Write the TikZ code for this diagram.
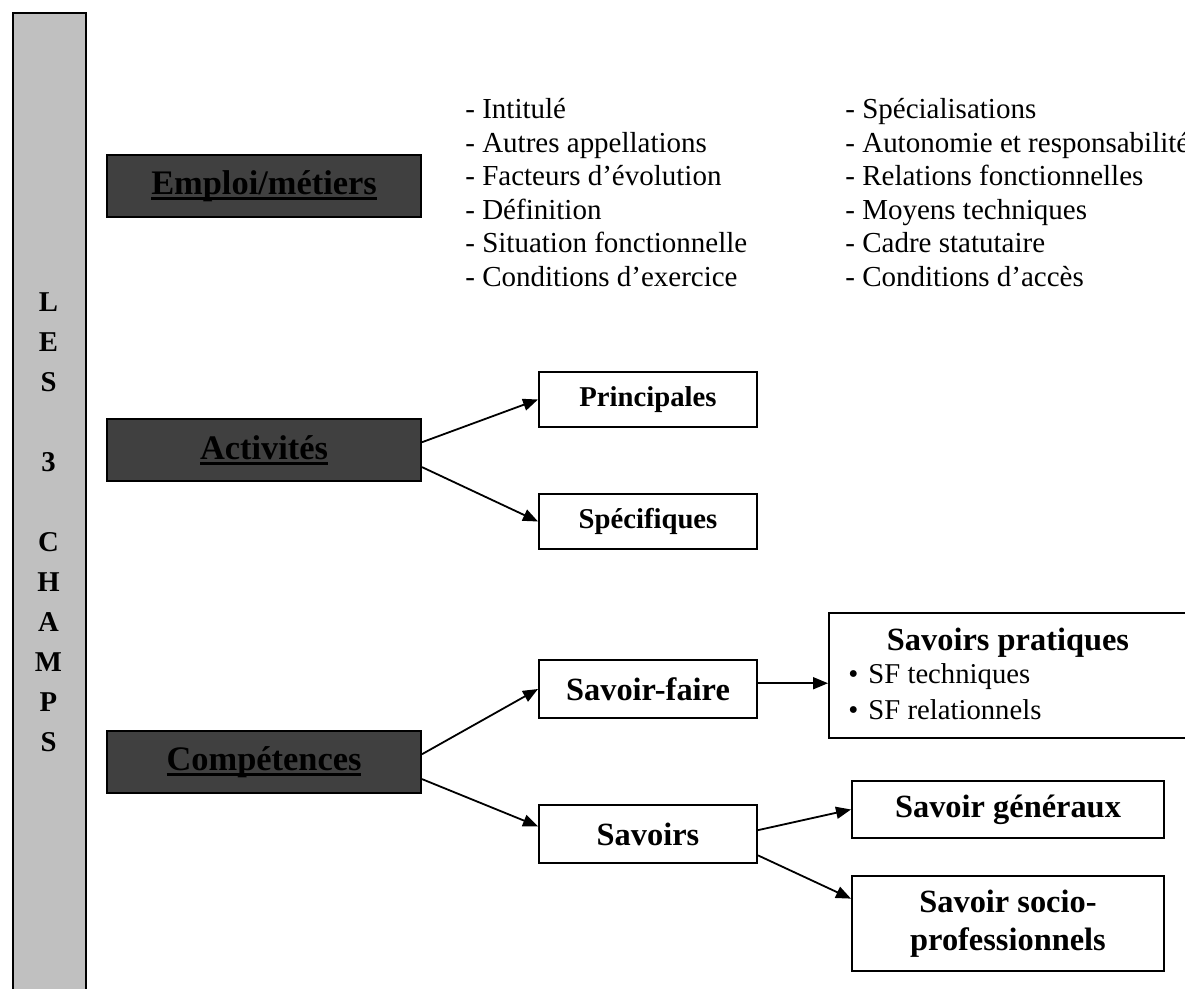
\documentclass[tikz,border=0pt]{standalone}
\usepackage{fontspec}
\setmainfont{Liberation Serif}
\usepackage{tikz}
\usetikzlibrary{positioning,arrows.meta}

\definecolor{barfill}{HTML}{C0C0C0}
\definecolor{darkfill}{HTML}{404040}
\newsavebox{\soulbox}
\newcommand{\souligne}[1]{\sbox{\soulbox}{#1}\rlap{\vrule height -1.3pt depth 2.7pt width \wd\soulbox}\usebox{\soulbox}}

\tikzset{
	darkbox/.style={draw=black,line width=1pt,fill=darkfill,minimum width=157pt,minimum height=31pt,inner sep=0pt,font=\fontsize{17.2}{20}\selectfont\bfseries},
	whitebox/.style={draw=black,line width=1pt,minimum width=109pt,minimum height=27.5pt,inner sep=0pt,font=\fontsize{14.35}{17}\selectfont\bfseries},
	bigbox/.style={whitebox,minimum height=29pt,font=\fontsize{16.2}{19}\selectfont\bfseries},
	listtext/.style={align=left,inner sep=0pt,font=\fontsize{14.5}{16.8}\selectfont},
	link/.style={-{Triangle[length=7.5pt,width=6pt]},line width=0.9pt}
}

\begin{document}
\begin{tikzpicture}[x=0.5pt,y=-0.5pt]
		\useasboundingbox (0,0) rectangle (1185,989);
		\begin{scope}
			% bande grise a gauche
			\node(bar) [draw=black,line width=1.2pt,fill=barfill,anchor=north west,minimum width=36.5pt,minimum height=500pt] at (12,12) {};
			\node(champs) [font=\fontsize{14.35}{20}\selectfont\bfseries,align=center,inner sep=0pt] at (48.5,522) {L\\E\\S\\[20pt]3\\[20pt]C\\H\\A\\M\\P\\S};

			% emploi
			\node(emploi) [darkbox] at (264,186.5) {\souligne{Emploi/métiers}};
			\node(liste1) [listtext,anchor=north west] at (465,98) {- Intitulé\\- Autres appellations\\- Facteurs d’évolution\\- Définition\\- Situation fonctionnelle\\- Conditions d’exercice};
			\node(liste2) [listtext,anchor=north west] at (845,98) {- Spécialisations\\- Autonomie et responsabilité\\- Relations fonctionnelles\\- Moyens techniques\\- Cadre statutaire\\- Conditions d’accès};

			% activites
			\node(act) [darkbox] at (264,450.5) {\souligne{Activités}};
			\node(princ) [whitebox] at (648,399.5) {Principales};
			\node(spec) [whitebox,below=32.5pt of princ] {Spécifiques};

			% competences
			\node(comp) [darkbox] at (264,762.5) {\souligne{Compétences}};
			\node(sf) [bigbox] at (648,689) {Savoir-faire};
			\node(sav) [bigbox,below=42.5pt of sf] {Savoirs};
			\node(sp) [draw=black,line width=1pt,anchor=north west,minimum width=180pt,minimum height=62.5pt] at (828,612) {};
			\node(sptitle) [font=\fontsize{16.2}{19}\selectfont\bfseries,inner sep=0pt] at (1008,643) {Savoirs pratiques};
			\node(sp1) [font=\fontsize{14.35}{17}\selectfont,anchor=west,inner sep=0pt] at (848,677) {•\hspace{5pt}SF techniques};
			\node(sp2) [font=\fontsize{14.35}{17}\selectfont,anchor=west,inner sep=0pt] at (848,710) {•\hspace{5pt}SF relationnels};
			\node(sg) [bigbox,minimum width=156pt,minimum height=28.5pt] at (1008,809.5) {Savoir généraux};
			\node(ssp) [bigbox,minimum width=156pt,minimum height=47.5pt,align=center] at (1008,923.5) {Savoir socio-\\professionnels};

			\path[link]
				(act.3)   edge (princ.west)
				(act.-6)  edge (spec.west)
				(comp.3)  edge (sf.west)
				(comp.-6) edge (sav.176)
				(sav.2)   edge (sg.west)
				(sav.-11) edge (ssp.171);
			\draw[link] (sf.3) -- (sf.3 -| sp.west);
		\end{scope}
	\end{tikzpicture}
\end{document}
